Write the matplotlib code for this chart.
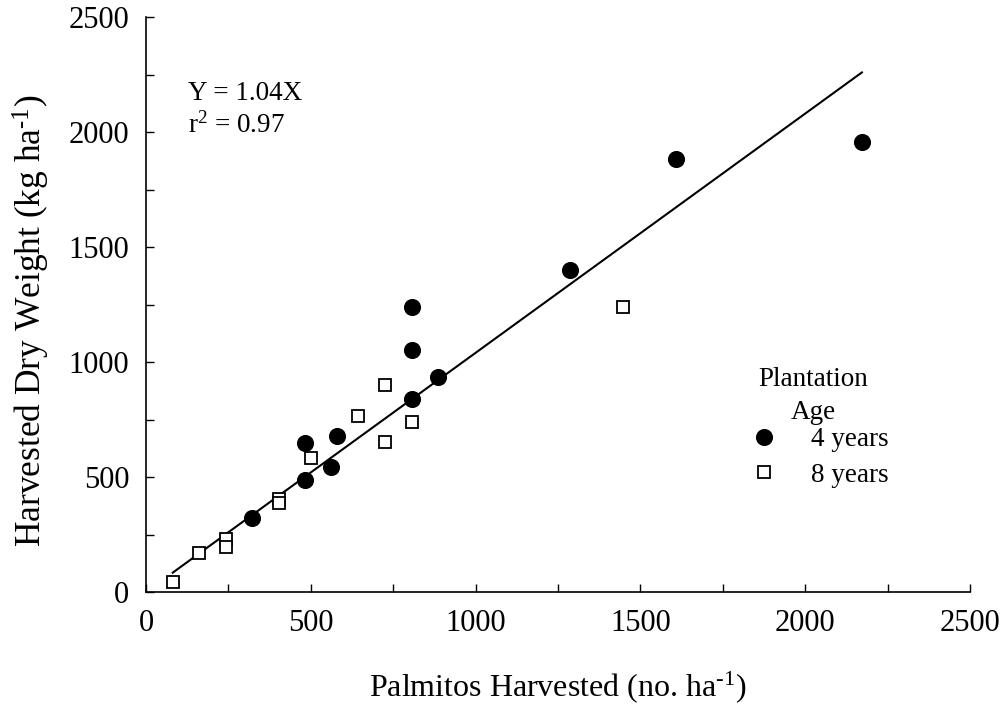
import matplotlib
matplotlib.use("Agg")
import matplotlib.pyplot as plt

# font setup - Times-like serif
plt.rcParams["font.family"] = ["Liberation Serif", "DejaVu Serif"]
plt.rcParams["mathtext.fontset"] = "custom"
plt.rcParams["mathtext.rm"] = "Liberation Serif"
plt.rcParams["mathtext.it"] = "Liberation Serif:italic"
plt.rcParams["mathtext.default"] = "regular"

# 4 year old plantation
x_4yr = [322, 481, 482, 562, 581, 806, 806, 806, 885, 1286, 1609, 2172]
y_4yr = [323, 487, 650, 543, 678, 838, 1054, 1240, 935, 1400, 1884, 1956]

# 8 year old plantation
x_8yr = [81, 162, 243, 243, 403, 403, 500, 644, 724, 724, 806, 1448]
y_8yr = [45, 171, 230, 197, 404, 388, 581, 765, 902, 653, 740, 1239]

# regression line end points (Y = 1.04X)
fit_x = [81, 2172]
fit_y = [84, 2259]

x_ticks = [0, 250, 500, 750, 1000, 1250, 1500, 1750, 2000, 2250, 2500]
x_ticklabels = ["0", "", "500", "", "1000", "", "1500", "", "2000", "", "2500"]
y_ticks = [0, 250, 500, 750, 1000, 1250, 1500, 1750, 2000, 2250, 2500]
y_ticklabels = ["0", "", "500", "", "1000", "", "1500", "", "2000", "", "2500"]

fig = plt.figure(figsize=(10.05, 7.04), dpi=100)
ax = fig.add_axes([146 / 1005, 112 / 704, 824 / 1005, 575 / 704])

ax.plot(fit_x, fit_y, color="black", lw=1.5, zorder=1)
ax.plot(x_4yr, y_4yr, "o", color="black", ms=11.3, mec="black", label="4 years", zorder=3)
ax.plot(x_8yr, y_8yr, "s", color="black", mfc="white", ms=8.6, mew=1.3, label="8 years", zorder=2)

ax.text(127, 2137, "Y = 1.04X", fontsize=19.5, va="baseline", ha="left")
ax.text(127, 1998, "r$^{2}$ = 0.97", fontsize=19.5, va="baseline", ha="left")

ax.set_xlim(0, 2500)
ax.set_ylim(0, 2500)
ax.set_xticks(x_ticks)
ax.set_xticklabels(x_ticklabels)
ax.set_yticks(y_ticks)
ax.set_yticklabels(y_ticklabels)
ax.tick_params(direction="in", length=6, width=1, labelsize=22, pad=12)

for side in ["top", "right"]:
    ax.spines[side].set_visible(False)
for side in ["left", "bottom"]:
    ax.spines[side].set_linewidth(1.2)

ax.set_xlabel(r"Palmitos Harvested (no. ha$^{\text{-1}}$)", fontsize=23)
ax.xaxis.set_label_coords(0.5, -0.135)
ax.set_ylabel(r"Harvested Dry Weight (kg ha$^{\text{-1}}$)", fontsize=25.5)
ax.yaxis.set_label_coords(-0.114, 0.471)

# legend title drawn separately so its spacing can match
ax.text(1857, 852, "Plantation\nAge", fontsize=19.5, ha="left", va="center",
        multialignment="center", linespacing=1.42)
leg = ax.legend(loc="center left",
                bbox_to_anchor=(604.5 / 824, (592 - 457.4) / 575),
                frameon=False, fontsize=19.5,
                handlelength=1.0, handletextpad=1.23, labelspacing=0.4,
                borderaxespad=0, borderpad=0)

fig.savefig("out.png", dpi=100)
